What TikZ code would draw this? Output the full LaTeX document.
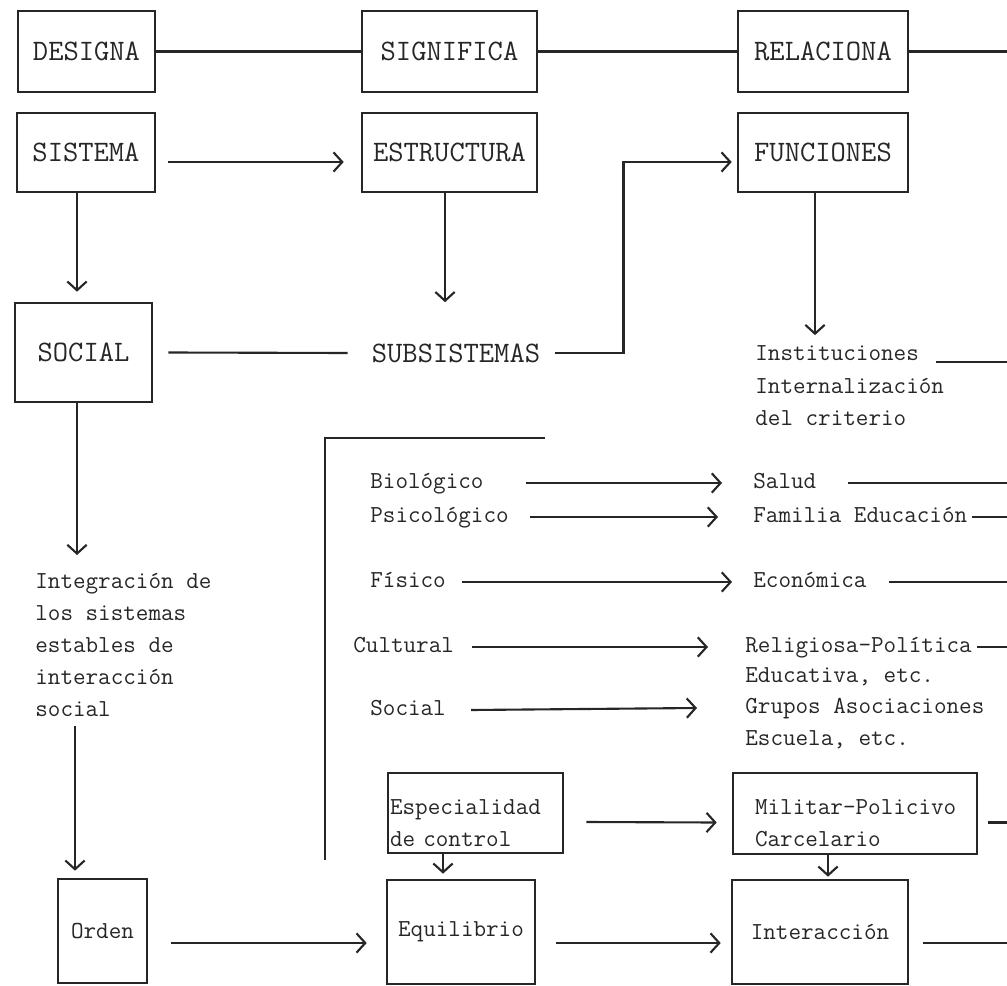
\documentclass[tikz,border=0pt]{standalone}
\usepackage{fontspec}
\usepackage{tikz}
\usetikzlibrary{arrows.meta, positioning, calc}
\definecolor{ink}{RGB}{38, 38, 38}

\begin{document}
\begin{tikzpicture}[
    x=0.02cm, y=-0.02cm,
    concept/.style={
        rectangle, draw=ink, line width=1.5pt, inner sep=0pt, text=ink,
        font=\ttfamily\fontsize{16.9}{20}\selectfont
    },
    framed/.style={
        rectangle, draw=ink, line width=1.5pt, inner sep=0pt, text=ink,
        font=\ttfamily\fontsize{13.9}{18.2}\selectfont
    },
    heading/.style={
        inner sep=0pt, text=ink, font=\ttfamily\fontsize{16.9}{20}\selectfont
    },
    item/.style={
        anchor=west, inner sep=0pt, text=ink, text height=9pt, text depth=3pt,
        font=\ttfamily\fontsize{13.9}{18.2}\selectfont
    },
    block/.style={
        inner sep=0pt, text=ink, align=left,
        font=\ttfamily\fontsize{13.9}{18.2}\selectfont
    },
    link/.style={draw=ink, line width=1.2pt},
    flow/.style={link, -{Straight Barb[length=5pt, width=11pt]}}
]
\useasboundingbox (0,0) rectangle (1007,986);
\coordinate (rim) at (1007,0);

% Top row
\node[concept, minimum width=2.74cm, minimum height=1.62cm] (designa) at (86.5,51.5) {DESIGNA};
\node[concept, minimum width=3.5cm, minimum height=1.62cm] (significa) at (449.5,51.5) {SIGNIFICA};
\node[concept, minimum width=3.4cm, minimum height=1.62cm] (relaciona) at (823,51.5) {RELACIONA};

% Second row
\node[concept, minimum width=2.76cm, minimum height=1.58cm] (sistema) at (86,152.5) {SISTEMA};
\node[concept, minimum width=3.5cm, minimum height=1.58cm] (estructura) at (449.5,152.5) {ESTRUCTURA};
\node[concept, minimum width=3.4cm, minimum height=1.58cm] (funciones) at (823,152.5) {FUNCIONES};

% Third row
\node[concept, minimum width=2.74cm, minimum height=1.98cm] (social) at (83.5,352.5) {SOCIAL};
\node[heading] (subsistemas) at (456,353) {SUBSISTEMAS};
\node[item] (instituciones) at (755,355) {Instituciones};
\node[item] (internalizacion) at (755,388) {Internalización};
\node[item] (criterio) at (755,420) {del criterio};

% Left column text
\node[block, anchor=north west] (integracion) at (35,573) {Integración de\\los sistemas\\estables de\\interacción\\social};

% Subsystems (left) and institutions (right)
\node[item] (biologico) at (370,483) {Biológico};
\node[item] (psicologico) at (370,517) {Psicológico};
\node[item] (fisico) at (370,582) {Físico};
\node[item] (cultural) at (353,647) {Cultural};
\node[item] (socialsub) at (370,710) {Social};

\node[item] (salud) at (753,483) {Salud};
\node[item] (familia) at (753,517) {Familia Educación};
\node[item] (economica) at (753,582) {Económica};
\node[item] (religiosa) at (745,647) {Religiosa-Política};
\node[item] (educativa) at (745,677) {Educativa, etc.};
\node[item] (grupos) at (745,708) {Grupos Asociaciones};
\node[item] (escuela) at (745,740) {Escuela, etc.};

% Control boxes
\node[framed, align=left, text width=3.42cm, minimum width=3.5cm, minimum height=1.6cm] (especialidad) at (475.5,813) {\rule{0pt}{20pt}Especialidad\\de control};
\node[framed, align=left, text width=4.0cm, minimum width=4.88cm, minimum height=1.62cm] (militar) at (855,813.5) {\rule{0pt}{20pt}Militar-Policivo\\Carcelario};

% Bottom row
\node[framed, minimum width=1.78cm, minimum height=2.08cm] (orden) at (102.5,931) {Orden};
\node[framed, minimum width=2.96cm, minimum height=2.08cm] (equilibrio) at (461,932) {Equilibrio};
\node[framed, minimum width=3.52cm, minimum height=2.08cm] (interaccion) at (820,932) {Interacción};

% Relations
\draw[link] (designa.east) -- (significa.west);
\draw[link] (significa.east) -- (relaciona.west);
\draw[link] (relaciona.east) -- (relaciona.east -| rim);
\draw[flow] ($(sistema.east)+(12,9.5)$) -- ($(estructura.west)+(-17,9.5)$);
\draw[flow] ($(sistema.south)+(-9,0)$) -- ($(social.north)+(-6.5,-10)$);
\draw[flow] ($(estructura.south)+(-4.5,0)$) -- ($(estructura.south |- subsistemas.north)+(-4.5,-41)$);
\draw[flow] ($(funciones.south)+(-8,0)$) -- ($(funciones.south |- instituciones.north)+(-8,-9)$);
\draw[link] ($(social.east)+(15,0)$) -- ($(subsistemas.west)+(-24,0)$);
\draw[flow] ($(subsistemas.east)+(15,0)$) -- ++(68,0) |- ($(funciones.west)+(-5,9.5)$);
\draw[link] ($(instituciones.east)+(17,7)$) -- ($(instituciones.east -| rim)+(0,7)$);
\draw[flow] ($(social.south)+(-6.5,0)$) -- ($(social.south |- integracion.north)+(-6.5,-18)$);
\draw[flow] ($(orden.north |- integracion.south)+(-27.5,9)$) -- ($(orden.north)+(-27.5,-7)$);

% Bracket
\draw[link, line width=1.5pt] (545,438) -- (325,438) -- (325,860);

% Subsystem arrows
\draw[flow] ($(biologico.east)+(42,0)$) -- ($(salud.west)+(-31,0)$);
\draw[flow] ($(psicologico.east)+(21,0)$) -- ($(familia.west)+(-35,0)$);
\draw[flow] ($(fisico.east)+(16,0)$) -- ($(economica.west)+(-21,0)$);
\draw[flow] ($(cultural.east)+(18,0)$) -- ($(religiosa.west)+(-37,0)$);
\draw[flow] ($(socialsub.east)+(25,0)$) -- ($(grupos.west)+(-48,0)$);
\draw[link] ($(salud.east)+(31,0)$) -- (salud.east -| rim);
\draw[link] ($(familia.east)+(4,0)$) -- (familia.east -| rim);
\draw[link] ($(economica.east)+(22,0)$) -- (economica.east -| rim);
\draw[link] ($(religiosa.east)+(5,0)$) -- (religiosa.east -| rim);

% Control and order
\draw[flow] ($(especialidad.east)+(22,9)$) -- ($(militar.west)+(-15,9)$);
\draw[link] ($(militar.east)+(10,9)$) -- ($(militar.east -| rim)+(0,9)$);
\draw[flow] ($(especialidad.south)+(-32.5,0)$) -- ($(equilibrio.north)+(-18,-5)$);
\draw[flow] ($(militar.south)+(-27,0)$) -- ($(interaccion.north)+(8,-2)$);
\draw[flow] ($(orden.east)+(23,12)$) -- ($(equilibrio.west)+(-19,11)$);
\draw[flow] ($(equilibrio.east)+(20,11)$) -- ($(interaccion.west)+(-10,11)$);
\draw[link] ($(interaccion.east)+(14,11)$) -- ($(interaccion.east -| rim)+(0,11)$);

\end{tikzpicture}
\end{document}
